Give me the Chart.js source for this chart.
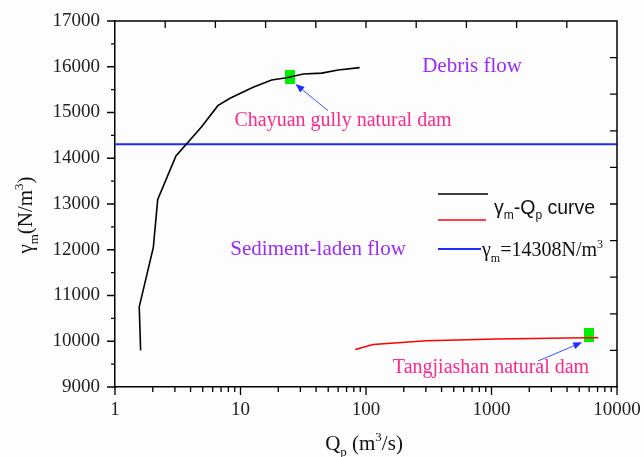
<!DOCTYPE html>
<html>
<head>
<meta charset="utf-8">
<script src="https://cdn.jsdelivr.net/npm/chart.js@4.4.1/dist/chart.umd.min.js"></script>
<style>
  html, body { margin: 0; padding: 0; background: #fdfdfd; }
  #wrap { width: 644px; height: 457px; }
</style>
</head>
<body>
<div id="wrap"><canvas id="chart" width="644" height="457"></canvas></div>
<script>
// γm-Qp curve (black)
const curveQ = [1.6, 1.56, 2.02, 2.19, 3.06, 4.9, 6.6, 8.25, 12.6, 17.7, 23.3, 31.7, 44.4, 60, 89];
const curveGamma = [9800, 10750, 12050, 13100, 14050, 14690, 15150, 15310, 15550, 15710, 15760, 15840, 15860, 15930, 15980];

// red curve (Tangjiashan)
const redQ = [82, 114, 303, 1100, 5740, 7100];
const redGamma = [9820, 9930, 10010, 10050, 10075, 10075];

// critical value line
const criticalGamma = 14308;
const criticalQ = [1, 10000];

// dams (green markers)
const damNames = ["Chayuan gully natural dam", "Tangjiashan natural dam"];
const damQ = [25, 6000];
const damGamma = [15775, 10130];

// where the dam labels and arrow tails sit (data units)
const damLabelQ = [65.6, 991];
const damLabelGamma = [14814, 9415];
const arrowTailQ = [49.8, 2345];
const arrowTailGamma = [15039, 9568];

// region labels
const regionNames = ["Debris flow", "Sediment-laden flow"];
const regionQ = [700, 41.5];
const regionGamma = [15995, 11995];

// tick labels
const xTicks = [1, 10, 100, 1000, 10000];
const yTicks = [9000, 10000, 11000, 12000, 13000, 14000, 15000, 16000, 17000];

const SERIF = "Liberation Serif";
const SANS = "Liberation Sans";
const PURPLE = "#9a2cf5";
const PINK = "#fb2a8c";

// green rectangle used as point style
const greenBox = document.createElement("canvas");
greenBox.width = 10;
greenBox.height = 14;
(function () {
    const g = greenBox.getContext("2d");
    g.fillStyle = "#00ee00";
    g.fillRect(0, 0, 10, 14);
})();

function toXY(xs, ys) {
    return xs.map((x, i) => ({ x: x, y: ys[i] }));
}

// draw text with sub/superscripts; parts = [text, kind] kind: "", "sub", "sup"
function drawRich(ctx, parts, x, y, size, family, align) {
    const small = Math.round(size * 0.62);
    let total = 0;
    parts.forEach(p => {
        ctx.font = (p[1] ? small : size) + "px '" + family + "'";
        total += ctx.measureText(p[0]).width;
    });
    let cx = align === "center" ? x - total / 2 : x;
    ctx.textBaseline = "alphabetic";
    ctx.textAlign = "left";
    parts.forEach(p => {
        ctx.font = (p[1] ? small : size) + "px '" + family + "'";
        let dy = 0;
        if (p[1] === "sub") dy = size * 0.28;
        if (p[1] === "sup") dy = -size * 0.42;
        ctx.fillText(p[0], cx, y + dy);
        cx += ctx.measureText(p[0]).width;
    });
}

function arrow(ctx, x1, y1, x2, y2) {
    const ang = Math.atan2(y2 - y1, x2 - x1);
    const len = 9, wid = 3.5;
    ctx.strokeStyle = "#3c50ff";
    ctx.fillStyle = "#1f2fff";
    ctx.lineWidth = 1;
    ctx.beginPath();
    ctx.moveTo(x1, y1);
    ctx.lineTo(x2 - len * Math.cos(ang), y2 - len * Math.sin(ang));
    ctx.stroke();
    ctx.beginPath();
    ctx.moveTo(x2, y2);
    ctx.lineTo(x2 - len * Math.cos(ang) + wid * Math.sin(ang), y2 - len * Math.sin(ang) - wid * Math.cos(ang));
    ctx.lineTo(x2 - len * Math.cos(ang) - wid * Math.sin(ang), y2 - len * Math.sin(ang) + wid * Math.cos(ang));
    ctx.closePath();
    ctx.fill();
}

const decor = {
    id: "decor",
    afterDraw(chart) {
        const ctx = chart.ctx;
        const a = chart.chartArea;
        const xs = chart.scales.x, ys = chart.scales.y;
        ctx.save();

        // frame top/right
        ctx.strokeStyle = "#000";
        ctx.lineWidth = 1.5;
        ctx.beginPath();
        ctx.moveTo(a.left, a.top);
        ctx.lineTo(a.right, a.top);
        ctx.lineTo(a.right, a.bottom);
        ctx.stroke();

        // bottom ticks (outward)
        ctx.lineWidth = 1.3;
        ctx.beginPath();
        for (let d = 1; d < 10000; d *= 10) {
            for (let m = 1; m <= 10; m++) {
                const px = xs.getPixelForValue(d * m);
                const len = (m === 1 || m === 10) ? 8 : 5;
                ctx.moveTo(px, a.bottom);
                ctx.lineTo(px, a.bottom + len);
            }
        }
        // left ticks (outward)
        for (let v = 9000; v <= 17000; v += 500) {
            const py = ys.getPixelForValue(v);
            const len = v % 1000 === 0 ? 8 : 4;
            ctx.moveTo(a.left, py);
            ctx.lineTo(a.left - len, py);
        }
        // top and right ticks (inward, 10 divisions)
        for (let i = 1; i < 10; i++) {
            const px = a.left + (a.right - a.left) * i / 10;
            ctx.moveTo(px, a.top);
            ctx.lineTo(px, a.top + 7);
            const py = a.top + (a.bottom - a.top) * i / 10;
            ctx.moveTo(a.right, py);
            ctx.lineTo(a.right - 7, py);
        }
        ctx.stroke();

        // region labels
        ctx.fillStyle = PURPLE;
        ctx.font = "21px '" + SERIF + "'";
        ctx.textAlign = "center";
        ctx.textBaseline = "middle";
        regionNames.forEach((t, i) => {
            ctx.fillText(t, xs.getPixelForValue(regionQ[i]), ys.getPixelForValue(regionGamma[i]));
        });

        // dam labels and arrows
        damNames.forEach((t, i) => {
            ctx.fillStyle = PINK;
            ctx.font = "20px '" + SERIF + "'";
            ctx.textAlign = "center";
            ctx.textBaseline = "middle";
            ctx.fillText(t, xs.getPixelForValue(damLabelQ[i]), ys.getPixelForValue(damLabelGamma[i]));
            const tipX = xs.getPixelForValue(damQ[i]) + (i === 0 ? 5 : -7);
            const tipY = ys.getPixelForValue(damGamma[i]) + 7;
            arrow(ctx, xs.getPixelForValue(arrowTailQ[i]), ys.getPixelForValue(arrowTailGamma[i]), tipX, tipY);
        });

        // legend
        const lx = 438;
        ctx.lineWidth = 1.6;
        ctx.strokeStyle = "#000";
        ctx.beginPath(); ctx.moveTo(lx, 194); ctx.lineTo(lx + 50, 194); ctx.stroke();
        ctx.strokeStyle = "#ff0000";
        ctx.beginPath(); ctx.moveTo(lx, 220); ctx.lineTo(lx + 48, 220); ctx.stroke();
        ctx.strokeStyle = "#1f2bff";
        ctx.lineWidth = 2;
        ctx.beginPath(); ctx.moveTo(lx, 249); ctx.lineTo(lx + 43, 249); ctx.stroke();
        ctx.fillStyle = "#111";
        drawRich(ctx, [["γ", ""], ["m", "sub"], ["-Q", ""], ["p", "sub"], [" curve", ""]], 494, 214, 19.5, SANS, "left");
        drawRich(ctx, [["γ", ""], ["m", "sub"], ["=14308N/m", ""], ["3", "sup"]], 482, 256, 20, SERIF, "left");

        // axis titles
        ctx.fillStyle = "#111";
        drawRich(ctx, [["Q", ""], ["p", "sub"], [" (m", ""], ["3", "sup"], ["/s)", ""]], 364, 450, 21, SERIF, "center");
        ctx.save();
        ctx.translate(32, 215);
        ctx.rotate(-Math.PI / 2);
        drawRich(ctx, [["γ", ""], ["m", "sub"], ["(N/m", ""], ["3", "sup"], [")", ""]], 0, 0, 21, SERIF, "center");
        ctx.restore();

        ctx.restore();
    }
};

new Chart(document.getElementById("chart"), {
    type: "scatter",
    data: {
        datasets: [
            {
                data: toXY(curveQ, curveGamma),
                showLine: true,
                borderColor: "#000",
                borderWidth: 1.6,
                pointRadius: 0
            },
            {
                data: toXY(redQ, redGamma),
                showLine: true,
                borderColor: "#ff0000",
                borderWidth: 1.6,
                pointRadius: 0
            },
            {
                data: toXY(criticalQ, [criticalGamma, criticalGamma]),
                showLine: true,
                borderColor: "#1f2bff",
                borderWidth: 2,
                pointRadius: 0
            },
            {
                data: toXY(damQ, damGamma),
                showLine: false,
                pointStyle: greenBox,
                pointRadius: 7
            }
        ]
    },
    options: {
        responsive: false,
        animation: false,
        events: [],
        layout: { padding: { top: 21, right: 27, left: 0, bottom: 0 } },
        plugins: {
            legend: { display: false },
            tooltip: { enabled: false }
        },
        scales: {
            x: {
                type: "logarithmic",
                min: 1,
                max: 10000,
                afterFit: s => { s.height = 70; s.paddingLeft = 0; s.paddingRight = 0; },
                afterBuildTicks: s => { s.ticks = xTicks.map(v => ({ value: v })); },
                grid: { display: false, drawTicks: false },
                border: { display: true, color: "#000", width: 1.5 },
                ticks: {
                    color: "#222",
                    font: { family: SERIF, size: 19 },
                    padding: 12,
                    autoSkip: false,
                    maxRotation: 0,
                    callback: v => String(v)
                }
            },
            y: {
                type: "linear",
                min: 9000,
                max: 17000,
                afterFit: s => { s.width = 115; s.paddingTop = 0; s.paddingBottom = 0; },
                afterBuildTicks: s => { s.ticks = yTicks.map(v => ({ value: v })); },
                grid: { display: false, drawTicks: false },
                border: { display: true, color: "#000", width: 1.5 },
                ticks: {
                    color: "#222",
                    font: { family: SERIF, size: 19 },
                    padding: 15,
                    callback: v => String(v)
                }
            }
        }
    },
    plugins: [decor]
});
</script>
</body>
</html>
